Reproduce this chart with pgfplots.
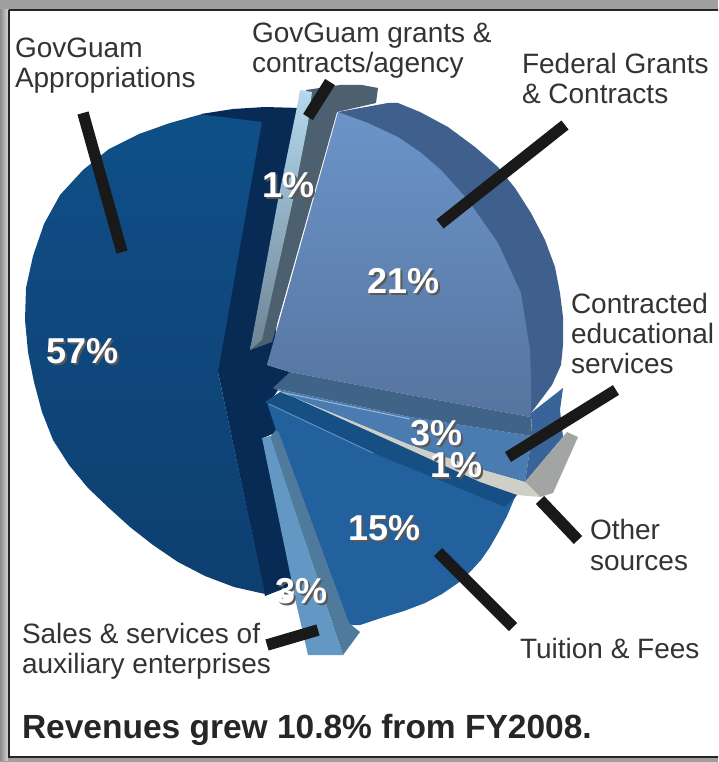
\documentclass[border=0pt]{standalone}
\usepackage{fontspec}
\setmainfont{Liberation Sans}
\usepackage{pgfplots}
\pgfplotsset{compat=1.18}
\definecolor{mainlow}{HTML}{0E3F70}
\definecolor{maintop}{HTML}{0F4F88}
\definecolor{darkwall}{HTML}{082B55}
\definecolor{fedtop}{HTML}{6B94C8}
\definecolor{fedlow}{HTML}{56749F}
\definecolor{fedwall}{HTML}{3F5F8C}
\definecolor{slate}{HTML}{3F6488}
\definecolor{contr}{HTML}{4A7CB2}
\definecolor{contrwall}{HTML}{38649A}
\definecolor{tuit}{HTML}{22609E}
\definecolor{tuitband}{HTML}{154F84}
\definecolor{grayw}{HTML}{A3A5A5}
\definecolor{cream}{HTML}{CFCFC8}
\definecolor{salelight}{HTML}{6398C4}
\definecolor{salegray}{HTML}{4F7A9C}
\definecolor{sliverg}{HTML}{4C6070}
\definecolor{slivertop}{HTML}{B4D8EE}
\definecolor{sliverlow}{HTML}{6E8494}
\definecolor{txt}{HTML}{333333}
\newcommand{\lab}[1]{\fontsize{28}{28}\selectfont\color{txt}#1}
\newcommand{\pct}[1]{\fontsize{36}{36}\selectfont\bfseries\rlap{\kern2pt\raisebox{-2pt}{\color{black!65}#1}}\color{white}#1}
\tikzset{
  leader/.style={draw=black!90, line width=11.5pt, line cap=butt},
  lbl/.style={anchor=base west, inner sep=0pt, outer sep=0pt, align=left},
}
\begin{document}
\begin{tikzpicture}
\begin{axis}[
  scale only axis, width=718pt, height=762pt,
  xmin=0, xmax=718, ymin=0, ymax=762, y dir=reverse,
  hide axis, clip=true,
  every axis plot/.append style={no markers, draw=none},
]
% frame
\addplot[fill=gray!75] coordinates {(0,0)(718,0)(718,762)(0,762)};
\addplot[left color=gray!90, right color=gray!35] coordinates {(0,10)(8,10)(8,760)(0,760)};
\addplot[fill=white, draw=black!85, line width=1.6pt] coordinates {(9,10)(730,10)(730,757)(9,757)(9,10)};

% GovGuam appropriations: dark side wall, then face
\addplot[fill=darkwall] coordinates {(300,108)(265,107)(233,109)(201,114)(218,372)(265,596)(293,585)(263,438)(282,430)(270,402)(280,387)(290,372)(267,365)(275,340)};
\addplot[top color=maintop, bottom color=mainlow] coordinates {(262,122)(201,114.4)(170,123)(139,134)(109,149)(83,170)(60,195)(44,224)(33,256)(26,288)(25,320)(28,352)(34,382)(42,412)(53,440)(69,465)(88,488)(109,508)(130,527)(153,545)(178,562)(205,576)(234,587)(265,594)(218,372)};

% GovGuam grants sliver
\addplot[fill=sliverg] coordinates {(306,90)(340,85)(362,85)(378,88)(376,103)(337,112)(272,342)(250,350)(293,170)};
\addplot[top color=slivertop, bottom color=sliverlow] coordinates {(300,90)(312,92)(308,123)(293,200)(262,340)(250,350)(278,200)(297,107)};

% Federal wall and face
\addplot[fill=fedwall] coordinates {(338,112)(388,103)(398,103)(420,112)(448,127)(475,147)(498,167)(515,188)(531,213)(545,240)(555,267)(560,293)(563,317)(563,345)(561,365)(552,385)(531,413)};
\addplot[top color=fedtop, bottom color=fedlow] coordinates {(338,112)(368,123)(398,137)(420,152)(441,170)(468,200)(498,243)(521,293)(530,350)(531,380)(531,417)(410,395)(290,372)(267,365)};

% Contracted services
\addplot[fill=contr] coordinates {(273,388)(410,417)(532,436)(525,482)(483,470)(410,445)(293,397)};
\addplot[fill=slate] coordinates {(290,372)(410,395)(531,417)(532,436)(410,417)(273,388)};
\addplot[fill=contrwall] coordinates {(531,413)(563,388)(560,410)(563,437)(525,482)(532,436)};
\addplot[draw=white!45!contr, line width=1pt] coordinates {(280,392)(410,419)};

% Other sources
\addplot[fill=grayw] coordinates {(525,482)(567,432)(578,437)(553,493)(540,497)};
\addplot[fill=cream] coordinates {(293,397)(410,445)(483,470)(525,482)(540,497)(517,495)(480,482)(410,450)};

% Tuition
\addplot[fill=tuitband] coordinates {(265,402)(280,392)(293,397)(410,450)(480,482)(517,495)(505,510)(373,458)};
\addplot[fill=tuit] coordinates {(267,403)(373,453)(505,507)(515,497)(507,516)(498,533)(490,547)(481,560)(470,572)(458,583)(442,594)(425,603)(404,611)(381,618)(360,625)(347,625)(277,433)};
\addplot[draw=white!30!tuit, line width=1pt] coordinates {(269,404)(373,453)};

% Sales
\addplot[fill=salegray] coordinates {(270,437)(276,430)(279,433)(349,623)(360,632)(343,655)};
\addplot[fill=salelight] coordinates {(262,438)(270,436)(343,655)(308,655)(297,607)};

% leader lines
\addplot[leader] coordinates {(83,113)(122,252)};
\addplot[leader] coordinates {(330,82)(308,117)};
\addplot[leader] coordinates {(565,125)(440,224)};
\addplot[leader] coordinates {(616,390)(508,457)};
\addplot[leader] coordinates {(540,500)(578,540)};
\addplot[leader] coordinates {(438,552)(513,627)};
\addplot[leader] coordinates {(267,645)(318,630)};

% labels
\node[lbl] at (axis cs:15,58) {\lab{GovGuam}};
\node[lbl] at (axis cs:15,88) {\lab{Appropriations}};
\node[lbl] at (axis cs:252,43) {\lab{GovGuam grants \&}};
\node[lbl] at (axis cs:252,73) {\lab{contracts/agency}};
\node[lbl] at (axis cs:522,74) {\lab{Federal Grants}};
\node[lbl] at (axis cs:522,104) {\lab{\& Contracts}};
\node[lbl] at (axis cs:571,313) {\lab{Contracted}};
\node[lbl] at (axis cs:571,343) {\lab{educational}};
\node[lbl] at (axis cs:571,373) {\lab{services}};
\node[lbl] at (axis cs:590,539) {\lab{Other}};
\node[lbl] at (axis cs:590,570) {\lab{sources}};
\node[lbl] at (axis cs:520,658) {\lab{Tuition \& Fees}};
\node[lbl] at (axis cs:22,643) {\lab{Sales \& services of}};
\node[lbl] at (axis cs:22,673) {\lab{auxiliary enterprises}};
\node[lbl] at (axis cs:22,738) {\fontsize{33.5}{33.5}\selectfont\bfseries\color{black!85}Revenues grew 10.8\% from FY2008.};

% percent labels
\node[lbl] at (axis cs:46,363) {\pct{57\%}};
\node[lbl] at (axis cs:262,197) {\pct{1\%}};
\node[lbl] at (axis cs:367,293) {\pct{21\%}};
\node[lbl] at (axis cs:410,445) {\pct{3\%}};
\node[lbl] at (axis cs:430,477) {\pct{1\%}};
\node[lbl] at (axis cs:348,540) {\pct{15\%}};
\node[lbl] at (axis cs:275,603) {\pct{3\%}};
\end{axis}
\end{tikzpicture}
\end{document}
